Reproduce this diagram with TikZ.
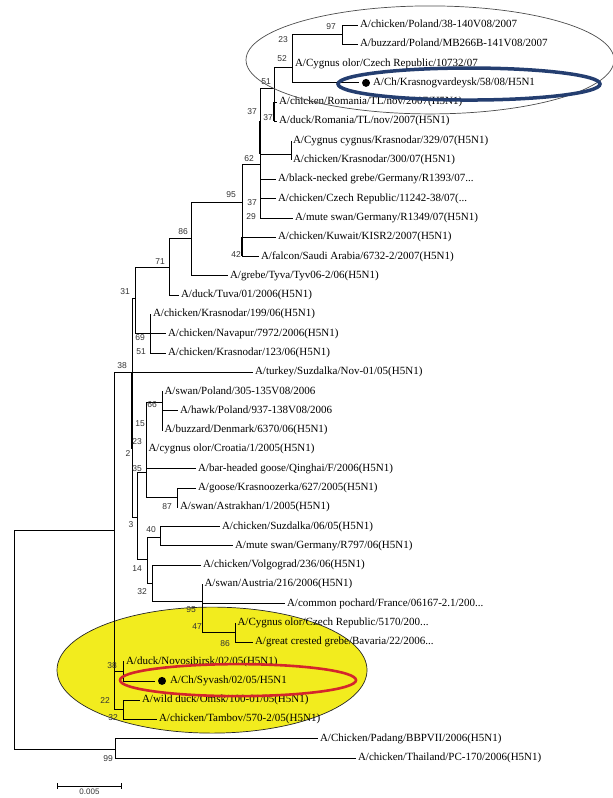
\documentclass[tikz,border=0pt]{standalone}
\usepackage{fontspec}
\setmainfont{Liberation Serif}
\setsansfont{Liberation Sans}
\usetikzlibrary{arrows.meta}
\definecolor{ovalblue}{RGB}{36,62,112}
\definecolor{ovalred}{RGB}{212,38,44}
\definecolor{ovalyellow}{RGB}{242,236,30}
\begin{document}
\begin{tikzpicture}[x=1pt, y=-19.29pt, line width=0.8pt,
  leaf/.style={anchor=west, inner sep=0pt, outer xsep=2pt, text height=7.5pt, text depth=2.5pt, font=\fontsize{11}{12}\selectfont},
  boot/.style={inner sep=0pt, text=black!80, font=\sffamily\fontsize{8.5}{9}\selectfont},
  tipdot/.style={circle, fill=black, inner sep=0pt, minimum size=8pt, outer sep=3pt},
  thk/.style={line width=1.9pt}]
  \useasboundingbox (0,-1.296) rectangle (612,40.07);
  \draw[black!85, line width=0.7pt, fill=ovalyellow] (212,33.44) ellipse [x radius=155pt, y radius=63pt];

  \coordinate (root) at (14,26.18);
  \coordinate (n38) at (114,26.18); \coordinate (n99) at (115,37.53);
  \coordinate (n2) at (132,18); \coordinate (n38a) at (123,33.5); \coordinate (n22) at (123,35.5);
  \coordinate (n31) at (135,14.15); \coordinate (n3) at (137,25.5);
  \coordinate (n71) at (169,12.55); \coordinate (n69) at (150,15.97);
  \coordinate (n86) at (191,11.04); \coordinate (n95) at (242,9.18);
  \coordinate (n62) at (260,7.2); \coordinate (n87) at (291,6.7);
  \coordinate (n51) at (274,3.27); \coordinate (n23) at (292,2.18); \coordinate (n97) at (342,0.5);
  \coordinate (n35) at (146,23.2); \coordinate (n66) at (162,19.55); \coordinate (n87a) at (177,24.5);
  \coordinate (n14) at (147,27.7); \coordinate (n40) at (160,26.54); \coordinate (n32) at (152,28.93);
  \coordinate (n95a) at (202,29.9); \coordinate (n47) at (235,31.5);

  \node[leaf] (l0) at (358,0) {A/chicken/Poland/38-140V08/2007};
  \node[leaf] (l1) at (358,1) {A/buzzard/Poland/MB266B-141V08/2007};
  \node[leaf] (l2) at (293,2) {A/Cygnus olor/Czech Republic/10732/07};
  \node[tipdot] (dk) at (366,3) {}; \node[leaf] (l3) at (371,3) {A/Ch/Krasnogvardeysk/58/08/H5N1};
  \node[leaf] (l4) at (277,4) {A/chicken/Romania/TL/nov/2007(H5N1)};
  \node[leaf] (l5) at (277,5) {A/duck/Romania/TL/nov/2007(H5N1)};
  \node[leaf] (l6) at (291,6) {A/Cygnus cygnus/Krasnodar/329/07(H5N1)};
  \node[leaf] (l7) at (291,7) {A/chicken/Krasnodar/300/07(H5N1)};
  \node[leaf] (l8) at (276,8) {A/black-necked grebe/Germany/R1393/07...};
  \node[leaf] (l9) at (276,9) {A/chicken/Czech Republic/11242-38/07(...};
  \node[leaf] (l10) at (293,10) {A/mute swan/Germany/R1349/07(H5N1)};
  \node[leaf] (l11) at (276,11) {A/chicken/Kuwait/KISR2/2007(H5N1)};
  \node[leaf] (l12) at (259,12) {A/falcon/Saudi Arabia/6732-2/2007(H5N1)};
  \node[leaf] (l13) at (228,13) {A/grebe/Tyva/Tyv06-2/06(H5N1)};
  \node[leaf] (l14) at (179,14) {A/duck/Tuva/01/2006(H5N1)};
  \node[leaf] (l15) at (151,15) {A/chicken/Krasnodar/199/06(H5N1)};
  \node[leaf] (l16) at (166,16) {A/chicken/Navapur/7972/2006(H5N1)};
  \node[leaf] (l17) at (166,17) {A/chicken/Krasnodar/123/06(H5N1)};
  \node[leaf] (l18) at (253,18) {A/turkey/Suzdalka/Nov-01/05(H5N1)};
  \node[leaf] (l19) at (162.5,19) {A/swan/Poland/305-135V08/2006};
  \node[leaf] (l20) at (178,20) {A/hawk/Poland/937-138V08/2006};
  \node[leaf] (l21) at (162.5,21) {A/buzzard/Denmark/6370/06(H5N1)};
  \node[leaf] (l22) at (146.5,22) {A/cygnus olor/Croatia/1/2005(H5N1)};
  \node[leaf] (l23) at (196,23) {A/bar-headed goose/Qinghai/F/2006(H5N1)};
  \node[leaf] (l24) at (196,24) {A/goose/Krasnoozerka/627/2005(H5N1)};
  \node[leaf] (l25) at (178,25) {A/swan/Astrakhan/1/2005(H5N1)};
  \node[leaf] (l26) at (220,26) {A/chicken/Suzdalka/06/05(H5N1)};
  \node[leaf] (l27) at (233,27) {A/mute swan/Germany/R797/06(H5N1)};
  \node[leaf] (l28) at (201,28) {A/chicken/Volgograd/236/06(H5N1)};
  \node[leaf] (l29) at (202.5,29) {A/swan/Austria/216/2006(H5N1)};
  \node[leaf] (l30) at (285,30) {A/common pochard/France/06167-2.1/200...};
  \node[leaf] (l31) at (235.5,31) {A/Cygnus olor/Czech Republic/5170/200...};
  \node[leaf] (l32) at (253,32) {A/great crested grebe/Bavaria/22/2006...};
  \node[leaf] (l33) at (124,33) {A/duck/Novosibirsk/02/05(H5N1)};
  \node[tipdot] (ds) at (162,34) {}; \node[leaf] (l34) at (168,34) {A/Ch/Syvash/02/05/H5N1};
  \node[leaf] (l35) at (140,35) {A/wild duck/Omsk/100-01/05(H5N1)};
  \node[leaf] (l36) at (157,36) {A/chicken/Tambov/570-2/05(H5N1)};
  \node[leaf] (l37) at (318,37) {A/Chicken/Padang/BBPVII/2006(H5N1)};
  \node[leaf] (l38) at (356,38) {A/chicken/Thailand/PC-170/2006(H5N1)};

  \draw (root) |- (n38) (root) |- (n99);
  \draw (n38) |- (n2) (n38) |- (n38a) (n38) |- (n22);
  \draw (n2) |- (n31) (n2) |- (l18.west) (n2) |- (n3);
  \draw (n31) |- (n71) (n31) |- (n69);
  \draw (n71) |- (n86) (n71) |- (l14.west);
  \draw (n86) |- (n95) (n86) |- (l13.west);
  \draw (n95) |- (n62) (n95) |- (l11.west) (n95) |- (l12.west);
  \draw (n62) |- (n51) (n62) |- (n87) (n62) |- (l8.west) (n62) |- (l9.west) (n62) |- (l10.west);
  \draw (n51) |- (n23) (n51) |- (l4.west) (n51) |- (l5.west);
  \draw (n23) |- (n97) (n23) |- (l2.west) (n23) |- (dk.west);
  \draw (n97) |- (l0.west) (n97) |- (l1.west);
  \draw (n87) |- (l6.west) (n87) |- (l7.west);
  \draw (n69) |- (l15.west) (n69) |- (l16.west) (n69) |- (l17.west);
  \draw (n3) |- (n35) (n3) |- (n14);
  \draw (n35) |- (n66) (n35) |- (l22.west) (n35) |- (l23.west) (n35) |- (n87a);
  \draw (n66) |- (l19.west) (n66) |- (l20.west) (n66) |- (l21.west);
  \draw (n87a) |- (l24.west) (n87a) |- (l25.west);
  \draw (n14) |- (n40) (n14) |- (n32);
  \draw (n40) |- (l26.west) (n40) |- (l27.west);
  \draw (n32) |- (l28.west) (n32) |- (n95a);
  \draw (n95a) |- (l29.west) (n95a) |- (l30.west) (n95a) |- (n47);
  \draw (n47) |- (l31.west) (n47) |- (l32.west);
  \draw (n38a) |- (l33.west) (n38a) |- (ds.west);
  \draw (n22) |- (l35.west) (n22) |- (l36.west);
  \draw (n99) |- (l37.west) (n99) |- (l38.west);
  \draw[thk] (n51|-l4.west) -- (n51|-l5.west);
  \draw[thk] (n62|-l5.west) -- (n62|-n87);
  \draw[thk] (n2) -- (n2|-l22.west);
  \draw[thk] (n95|-l11.west) -- (n95|-l12.west);

  \node[boot] (b97) at (331,0.1) {97};   \node[boot] (b23) at (283,0.78) {23};
  \node[boot] (b52) at (282,1.76) {52};  \node[boot] (b51) at (266,2.95) {51};
  \node[boot] (b37a) at (252,4.5) {37};  \node[boot] (b37b) at (268,4.82) {37};
  \node[boot] (b62) at (249,6.9) {62};   \node[boot] (b95) at (231,8.8) {95};
  \node[boot] (b37c) at (252,9.2) {37};  \node[boot] (b29) at (251,9.95) {29};
  \node[boot] (b86) at (183,10.73) {86}; \node[boot] (b42) at (236,11.9) {42};
  \node[boot] (b71) at (160,12.25) {71}; \node[boot] (b31) at (125,13.8) {31};
  \node[boot] (b69) at (140,16.2) {69};  \node[boot] (b51b) at (141,16.95) {51};
  \node[boot] (b38) at (122,17.63) {38}; \node[boot] (b66) at (152,19.7) {66};
  \node[boot] (b15) at (140,20.65) {15}; \node[boot] (b23b) at (137,21.6) {23};
  \node[boot] (b2) at (128,22.2) {2};    \node[boot] (b35) at (137,22.98) {35};
  \node[boot] (b87) at (167,24.97) {87}; \node[boot] (b3) at (131,25.92) {3};
  \node[boot] (b40) at (151,26.18) {40}; \node[boot] (b14) at (137,28.17) {14};
  \node[boot] (b32) at (142,29.38) {32}; \node[boot] (b95a) at (191,30.3) {95};
  \node[boot] (b47) at (197,31.2) {47};  \node[boot] (b86a) at (225,32.04) {86};
  \node[boot] (b38a) at (112,33.2) {38}; \node[boot] (b22) at (105,35.0) {22};
  \node[boot] (b32a) at (113,35.9) {32}; \node[boot] (b99) at (108,38.0) {99};

  \coordinate (sb1) at (57,39.45); \coordinate (sb2) at (122,39.45);
  \draw[{Bar[width=6pt]}-{Bar[width=6pt]}] (sb1) -- (sb2);
  \node[boot, font=\sffamily\fontsize{8}{9}\selectfont] (sbt) at (89.5,39.74) {0.005};

  \draw[black!70, line width=0.7pt] (430,1.81) ellipse [x radius=184pt, y radius=54pt];
  \draw[ovalblue, line width=3.5pt] (469,3.06) ellipse [x radius=131pt, y radius=16pt];
  \draw[ovalred, line width=2.6pt] (238,33.96) ellipse [x radius=118pt, y radius=16pt];
\end{tikzpicture}
\end{document}
